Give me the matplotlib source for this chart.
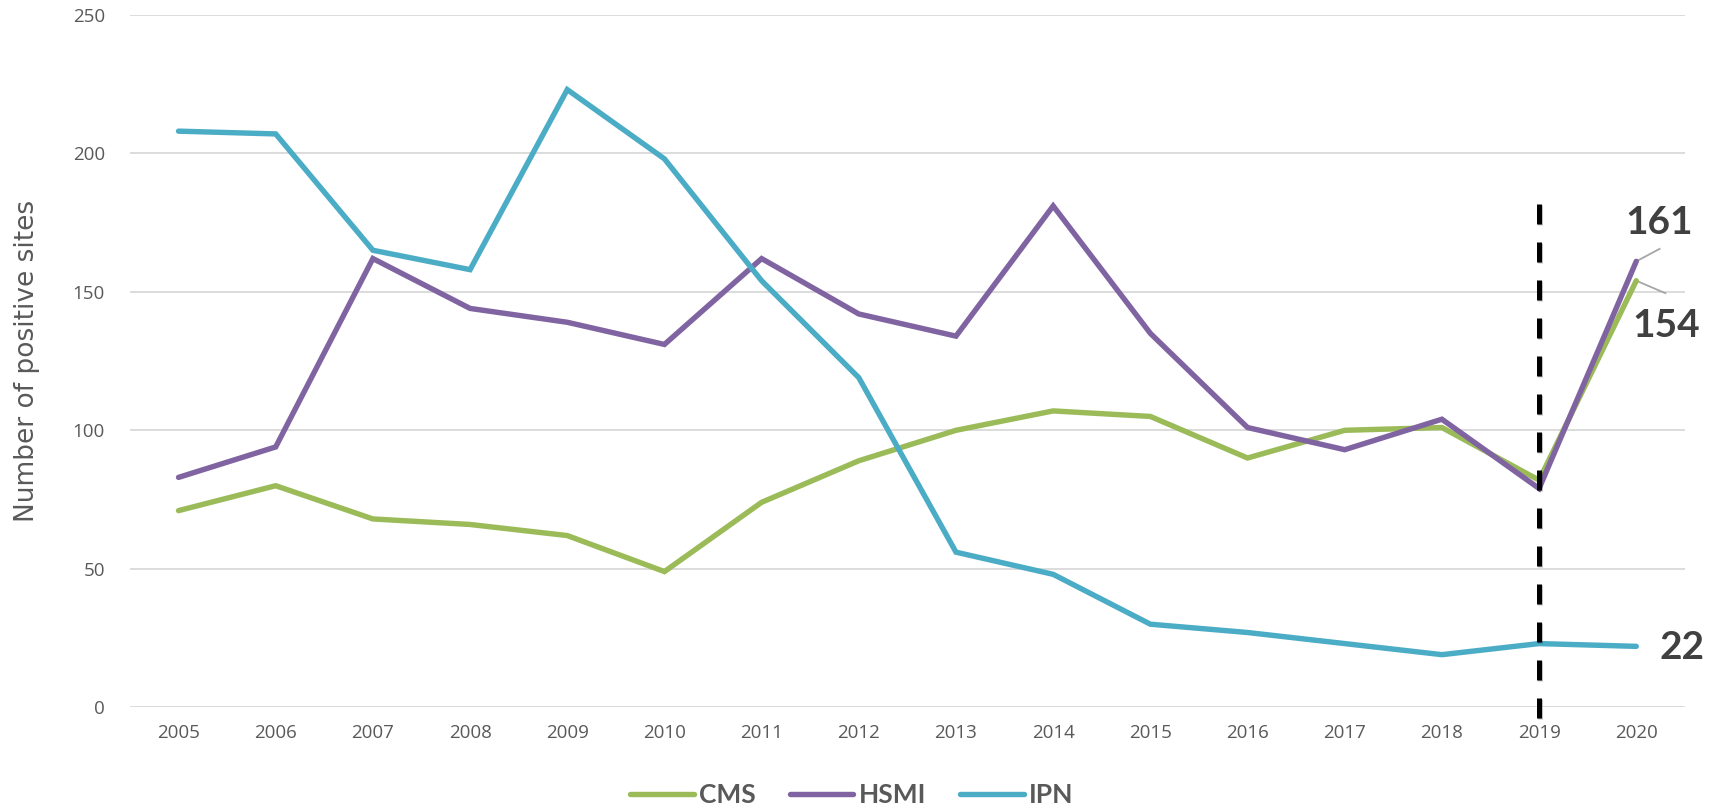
import matplotlib.pyplot as plt
import matplotlib.patheffects as pe
import numpy as np

years = [str(y) for y in range(2005, 2021)]
cms = [71, 80, 68, 66, 62, 49, 74, 89, 100, 107, 105, 90, 100, 101, 82, 154]
hsmi = [83, 94, 162, 144, 139, 131, 162, 142, 134, 181, 135, 101, 93, 104, 79, 161]
ipn = [208, 207, 165, 158, 223, 198, 154, 119, 56, 48, 30, 27, 23, 19, 23, 22]

series = [("CMS", cms, "#9BBB59"), ("HSMI", hsmi, "#8064A2"), ("IPN", ipn, "#4BACC6")]
marker_year = "2019"

plt.rcParams['font.family'] = ['Open Sans', 'DejaVu Sans']

fig = plt.figure(figsize=(17.21, 8.1), dpi=100)
ax = fig.add_axes([0.0755, 0.1268, 0.9035, 0.8549])

x = np.arange(len(years))
for name, vals, col in series:
    ax.plot(x, vals, color=col, lw=3.9, solid_capstyle='round', solid_joinstyle='miter', label=name, zorder=3)

# vertical dashed line at 2019
xi = years.index(marker_year)
ax.plot([xi, xi], [-4, 182], color='black', lw=3.6, dashes=(4, 3.6), zorder=4, clip_on=False,
        path_effects=[pe.SimpleLineShadow(offset=(0.5, -0.5), alpha=0.25), pe.Normal()])

# end labels with leader lines
last = len(years) - 1
lab_kw = dict(fontsize=28, fontweight='bold', color='#404040', family='Lato', va='center', ha='center')
ax.plot([last, last + 0.24], [hsmi[-1], 165.5], color='#A6A6A6', lw=1.3, zorder=2)
ax.plot([last, last + 0.30], [cms[-1], 149.5], color='#A6A6A6', lw=1.3, zorder=2)
ax.text(last + 0.24, 175, str(hsmi[-1]), **lab_kw)
ax.text(last + 0.31, 138, str(cms[-1]), **lab_kw)
ax.text(last + 0.47, 21.5, str(ipn[-1]), **lab_kw)

ax.set_xlim(-0.5, len(years) - 0.5)
ax.set_ylim(0, 250)
ax.set_yticks(range(0, 251, 50))
ax.set_xticks(x)
ax.set_xticklabels(years)
ax.tick_params(length=0, labelsize=13.5, colors='#595959', pad=12)
ax.tick_params(axis='y', pad=18)
ax.grid(axis='y', color='#D9D9D9', lw=1.3)
ax.set_axisbelow(True)
for s in ax.spines.values():
    s.set_visible(False)

ax.set_ylabel("Number of positive sites", fontsize=19, color='#595959', family='Liberation Sans Narrow')
ax.yaxis.set_label_coords(-0.058, 0.5)

leg = fig.legend(loc='center', bbox_to_anchor=(0.495, 0.018), ncol=3, frameon=False,
                 prop=dict(family='Lato', weight='bold', size=19), handlelength=2.4,
                 handletextpad=0.2, columnspacing=1.3)
for t in leg.get_texts():
    t.set_color('#595959')

fig.savefig("out.png", dpi=100)
